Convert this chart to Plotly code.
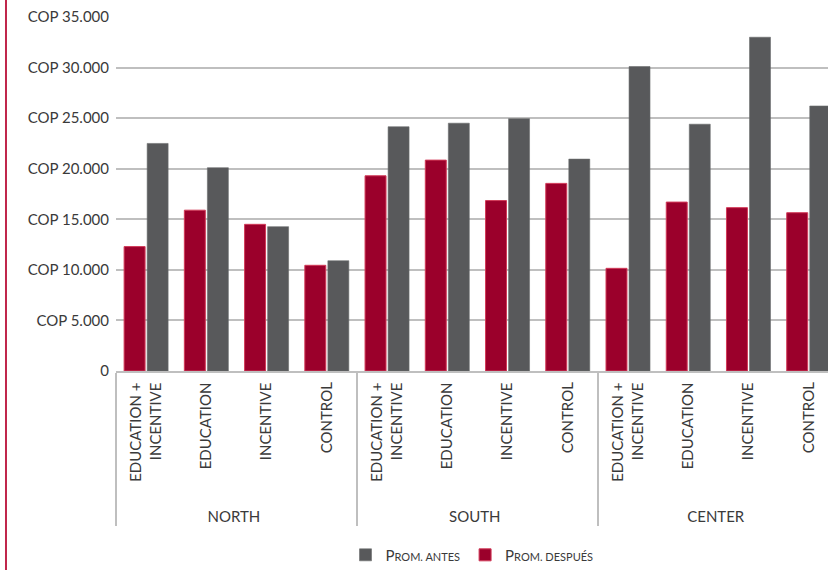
import plotly.graph_objects as go

# Regions and treatment groups (two-level category axis)
regions = ["NORTH"] * 4 + ["SOUTH"] * 4 + ["CENTER"] * 4
groups = ["EDUCATION +<br>INCENTIVE", "EDUCATION", "INCENTIVE", "CONTROL"] * 3

# Average values in COP
prom_despues = [12300, 15900, 14500, 10450,
                19300, 20850, 16850, 18550,
                10150, 16700, 16150, 15650]
prom_antes = [22500, 20100, 14270, 10900,
              24150, 24500, 24950, 20950,
              30100, 24400, 33000, 26200]

y_tick_vals = [0, 5000, 10000, 15000, 20000, 25000, 30000, 35000]
y_tick_text = ["0", "COP 5.000", "COP 10.000", "COP 15.000", "COP 20.000",
               "COP 25.000", "COP 30.000", "COP 35.000"]

RED = "#9b002b"
GRAY = "#58595b"
FONT = "Lato"
TEXT = "#3a3a3a"

# non-breaking spaces around each rotated label: the trailing one keeps the
# text off the axis line, the leading ones leave room above the region row
LEAD = "\u00a0" * 3
TRAIL = "\u00a0"
inner = ["<br>".join(LEAD + part + TRAIL for part in g.split("<br>"))
         for g in groups]


def small_caps(word_first, rest):
    return (f"<span style='font-size:15px'>{word_first}</span>"
            f"<span style='font-size:11px'>{rest}</span>")


fig = go.Figure()
fig.add_trace(go.Bar(
    x=[regions, inner], y=prom_despues,
    name=small_caps("P", "ROM. DESPUÉS"),
    marker=dict(color=RED, line=dict(color="#d23a58", width=1)),
))
fig.add_trace(go.Bar(
    x=[regions, inner], y=prom_antes,
    name=small_caps("P", "ROM. ANTES"),
    marker=dict(color=GRAY, line=dict(color="#6a6b6d", width=0.6)),
))

fig.update_layout(
    width=828, height=574,
    margin=dict(l=116, r=0, t=17, b=203),
    paper_bgcolor="white", plot_bgcolor="white",
    barmode="group", bargap=0.235, bargroupgap=0.09,
    font=dict(family=FONT, size=15, color=TEXT),
    showlegend=True,
    legend=dict(orientation="h", traceorder="reversed",
                x=0.5, xanchor="center", y=-0.52, yanchor="middle",
                font=dict(family=FONT, size=15, color=TEXT),
                itemwidth=30),
    xaxis=dict(
        type="multicategory",
        range=[-0.5, 11.32],
        tickangle=-90,
        showline=True, linecolor="#bfbfbf", linewidth=1.5,
        showdividers=True, dividercolor="#bfbfbf", dividerwidth=1.5,
        tickfont=dict(family=FONT, size=15, color=TEXT),
        showgrid=False, zeroline=False,
    ),
    yaxis=dict(
        range=[0, 35000],
        tickvals=y_tick_vals, ticktext=y_tick_text,
        showgrid=True, gridcolor="#bfbfbf", gridwidth=1.5,
        zeroline=False, showline=False,
        ticklabelstandoff=6,
        tickfont=dict(family=FONT, size=15, color=TEXT),
    ),
    shapes=[dict(type="line", xref="paper", yref="paper",
                 x0=-0.1545, x1=-0.1545, y0=1.048, y1=-0.562,
                 line=dict(color="#c0264b", width=2))],
)

fig.write_html("out.html")
